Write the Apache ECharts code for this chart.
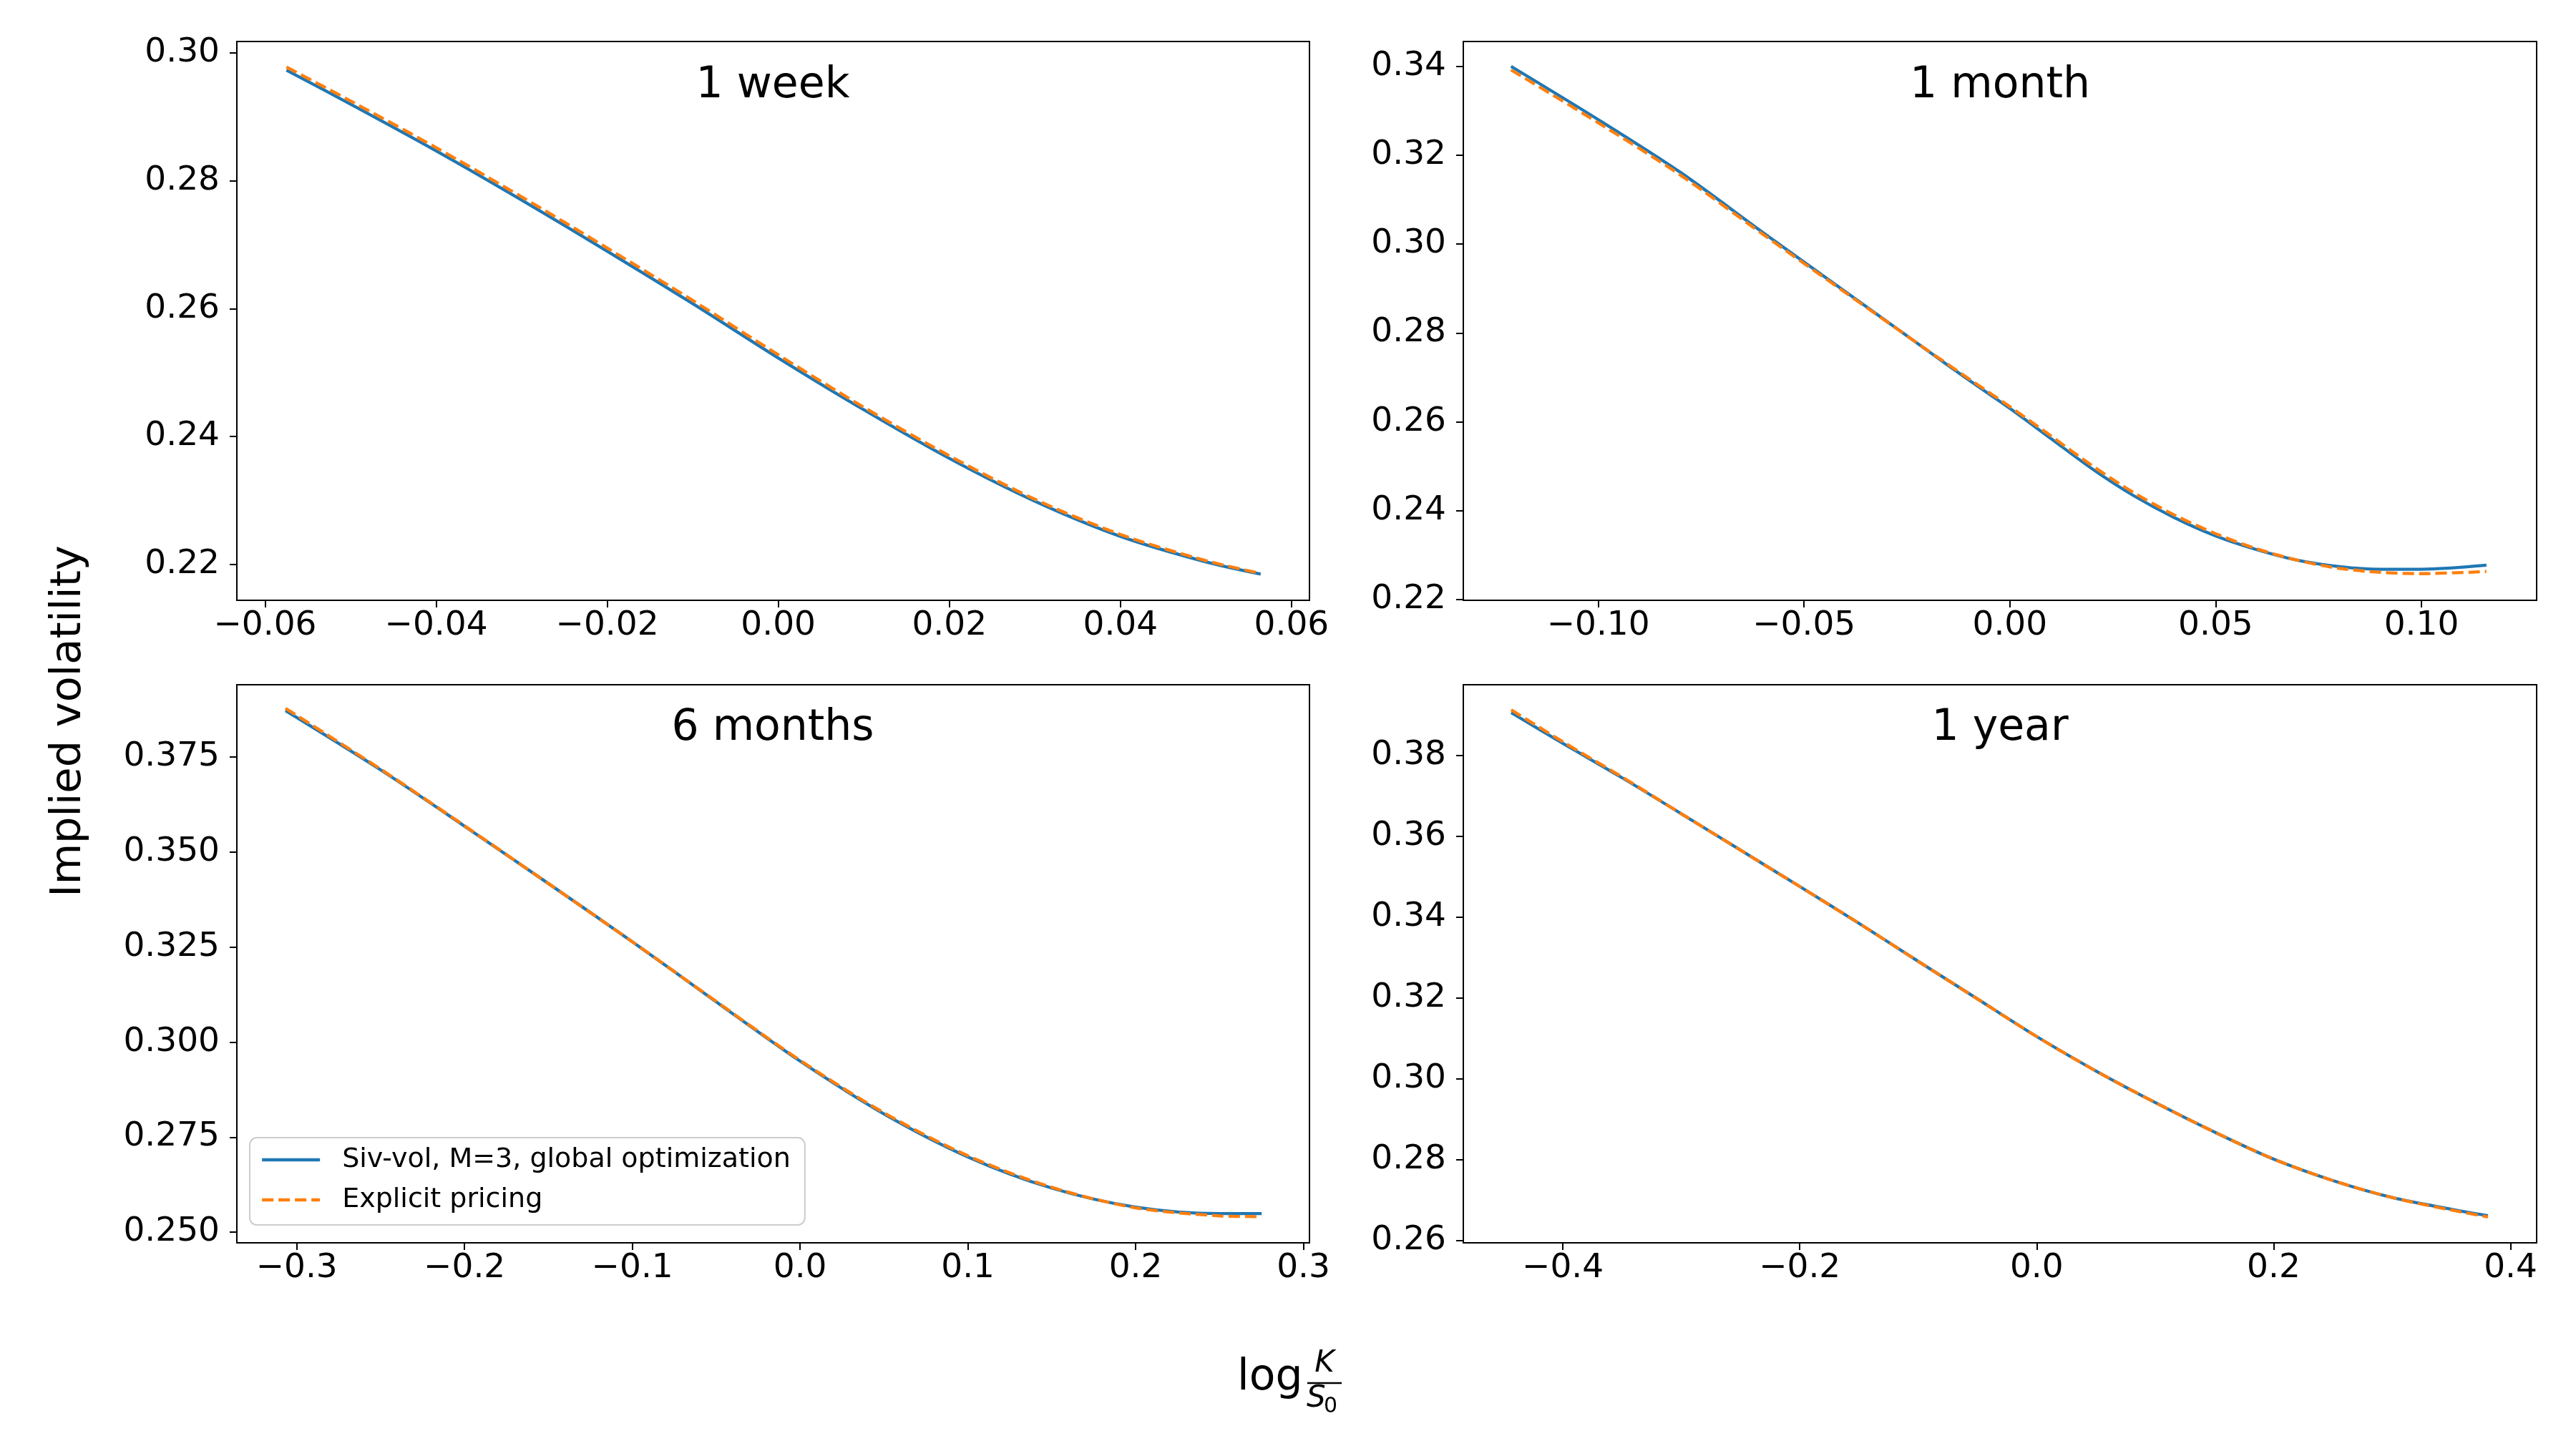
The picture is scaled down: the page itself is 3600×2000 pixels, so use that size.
<!DOCTYPE html>
<html>
<head>
<meta charset="utf-8">
<style>
  html, body { margin: 0; padding: 0; background: #fff; }
  #chart { width: 3600px; height: 2000px; }
</style>
</head>
<body>
<div id="chart"></div>
<script src="https://cdn.jsdelivr.net/npm/echarts/dist/echarts.min.js"></script>
<script>
// --- data ---
var panelTitles = ['1 week', '1 month', '6 months', '1 year'];
var seriesNames = ['Siv-vol, M=3, global optimization', 'Explicit pricing'];

// 1 week
var x1 = [-0.0575, -0.05, -0.04, -0.03, -0.02, -0.01, 0.0, 0.01, 0.02, 0.03, 0.04, 0.05, 0.0564];
var siv1 = [0.2973, 0.2920, 0.2847, 0.2770, 0.2690, 0.2608, 0.2523, 0.2442, 0.2366, 0.2299, 0.2244, 0.2204, 0.2185];
var exp1 = [0.2978, 0.2925, 0.2852, 0.2775, 0.2695, 0.2613, 0.2528, 0.2446, 0.2370, 0.2302, 0.2247, 0.2206, 0.2186];

// 1 month
var x2 = [-0.1212, -0.10, -0.08, -0.06, -0.04, -0.02, -0.01, 0.0, 0.01, 0.02, 0.03, 0.04, 0.05, 0.06, 0.07, 0.08, 0.09, 0.10, 0.1158];
var siv2 = [0.3400, 0.3280, 0.3161, 0.3026, 0.2893, 0.2760, 0.2694, 0.2630, 0.2562, 0.2494, 0.2434, 0.2384, 0.2343, 0.2312, 0.2288, 0.2274, 0.2268, 0.2268, 0.2277];
var exp2 = [0.3392, 0.3273, 0.3155, 0.3022, 0.2891, 0.2761, 0.2697, 0.2634, 0.2568, 0.2501, 0.2441, 0.2390, 0.2348, 0.2314, 0.2288, 0.2270, 0.2261, 0.2258, 0.2263];

// 6 months
var x3 = [-0.3067, -0.25, -0.2, -0.15, -0.1, -0.05, 0.0, 0.05, 0.1, 0.15, 0.2, 0.25, 0.2751];
var siv3 = [0.3872, 0.3716, 0.3568, 0.3417, 0.3264, 0.3106, 0.2950, 0.2811, 0.2698, 0.2616, 0.2566, 0.2549, 0.2549];
var exp3 = [0.3878, 0.3718, 0.3569, 0.3417, 0.3264, 0.3107, 0.2952, 0.2814, 0.2701, 0.2618, 0.2564, 0.2543, 0.2541];

// 1 year
var x4 = [-0.4436, -0.4, -0.35, -0.3, -0.25, -0.2, -0.15, -0.1, -0.05, 0.0, 0.05, 0.1, 0.15, 0.2, 0.25, 0.3, 0.35, 0.3809];
var siv4 = [0.3906, 0.3830, 0.3745, 0.3656, 0.3566, 0.3476, 0.3385, 0.3291, 0.3198, 0.3105, 0.3020, 0.2942, 0.2869, 0.2802, 0.2749, 0.2707, 0.2678, 0.2662];
var exp4 = [0.3913, 0.3834, 0.3747, 0.3656, 0.3566, 0.3476, 0.3385, 0.3291, 0.3198, 0.3105, 0.3020, 0.2942, 0.2869, 0.2802, 0.2749, 0.2707, 0.2676, 0.2659];

// tick values
var xTicks1 = [-0.06, -0.04, -0.02, 0.0, 0.02, 0.04, 0.06];
var yTicks1 = [0.22, 0.24, 0.26, 0.28, 0.30];
var xTicks2 = [-0.10, -0.05, 0.0, 0.05, 0.10];
var yTicks2 = [0.22, 0.24, 0.26, 0.28, 0.30, 0.32, 0.34];
var xTicks3 = [-0.3, -0.2, -0.1, 0.0, 0.1, 0.2, 0.3];
var yTicks3 = [0.250, 0.275, 0.300, 0.325, 0.350, 0.375];
var xTicks4 = [-0.4, -0.2, 0.0, 0.2, 0.4];
var yTicks4 = [0.26, 0.28, 0.30, 0.32, 0.34, 0.36, 0.38];

var FONT = 'DejaVu Sans';
var BLUE = '#1f77b4';
var ORANGE = '#ff7f0e';

function pairs(xs, ys) {
    return xs.map(function (x, i) { return [x, ys[i]]; });
}
function fmt(dec) {
    return function (v) { return Number(v).toFixed(dec).replace('-', '\u2212'); };
}

var grids = [
    { left: 331, top: 58, width: 1499, height: 781 },
    { left: 2045, top: 58, width: 1500, height: 781 },
    { left: 331, top: 957, width: 1499, height: 780 },
    { left: 2045, top: 957, width: 1500, height: 780 }
].map(function (g) {
    return Object.assign({ show: true, borderColor: '#000', borderWidth: 2, containLabel: false, outerBoundsMode: 'none' }, g);
});

function xAxis(i, min, max, ticks, dec) {
    return {
        gridIndex: i, type: 'value', min: min, max: max,
        axisLine: { show: true, onZero: false, lineStyle: { color: '#000', width: 2 } },
        axisTick: { show: true, length: 10, customValues: ticks, lineStyle: { color: '#000', width: 2 } },
        axisLabel: { customValues: ticks, formatter: fmt(dec), fontSize: 47, fontFamily: FONT, color: '#000', margin: 12 },
        splitLine: { show: false }
    };
}
function yAxis(i, min, max, ticks, dec) {
    return {
        gridIndex: i, type: 'value', min: min, max: max,
        axisLine: { show: true, onZero: false, lineStyle: { color: '#000', width: 2 } },
        axisTick: { show: true, length: 10, customValues: ticks, lineStyle: { color: '#000', width: 2 } },
        axisLabel: { customValues: ticks, formatter: fmt(dec), fontSize: 47, fontFamily: FONT, color: '#000', margin: 24 },
        splitLine: { show: false }
    };
}

function lines(i, xs, siv, exp) {
    return [
        {
            name: seriesNames[0], type: 'line', xAxisIndex: i, yAxisIndex: i,
            data: pairs(xs, siv), showSymbol: false, symbol: 'none', smooth: 0.3,
            lineStyle: { color: BLUE, width: 4.3 }, itemStyle: { color: BLUE }, z: 2
        },
        {
            name: seriesNames[1], type: 'line', xAxisIndex: i, yAxisIndex: i,
            data: pairs(xs, exp), showSymbol: false, symbol: 'none', smooth: 0.3,
            lineStyle: { color: ORANGE, width: 4.3, type: [16, 7] }, itemStyle: { color: ORANGE }, z: 3
        }
    ];
}

var titleCenters = [[1080, 120], [2795, 120], [1080, 1018], [2795, 1018]];
var graphics = titleCenters.map(function (c, i) {
    return {
        type: 'text', x: c[0], y: c[1], silent: true,
        style: { text: panelTitles[i], fontSize: 60, fontFamily: FONT, fill: '#000', textAlign: 'center', textVerticalAlign: 'middle' }
    };
});
// y label
graphics.push({
    type: 'text', x: 97, y: 1008, rotation: Math.PI / 2, silent: true,
    style: { text: 'Implied volatility', fontSize: 59, fontFamily: FONT, fill: '#000', textAlign: 'center', textVerticalAlign: 'middle' }
});
// x label: log K / S0
graphics.push(
    { type: 'text', x: 1729, y: 1926, silent: true,
      style: { text: 'log', fontSize: 60, fontFamily: FONT, fill: '#000', textAlign: 'left', textVerticalAlign: 'middle' } },
    { type: 'text', x: 1851, y: 1906, silent: true,
      style: { text: 'K', fontSize: 42, fontStyle: 'italic', fontFamily: FONT, fill: '#000', textAlign: 'center', textVerticalAlign: 'middle' } },
    { type: 'line', silent: true, shape: { x1: 1827, y1: 1933, x2: 1875, y2: 1933 }, style: { stroke: '#000', lineWidth: 2.5 } },
    { type: 'text', x: 1826, y: 1955, silent: true,
      style: { text: 'S', fontSize: 42, fontStyle: 'italic', fontFamily: FONT, fill: '#000', textAlign: 'left', textVerticalAlign: 'middle' } },
    { type: 'text', x: 1850, y: 1966, silent: true,
      style: { text: '0', fontSize: 30, fontFamily: FONT, fill: '#000', textAlign: 'left', textVerticalAlign: 'middle' } }
);

var myChart = echarts.init(document.getElementById('chart'), null, { renderer: 'canvas' });

var option = {
    backgroundColor: '#fff',
    animation: false,
    grid: grids,
    xAxis: [
        xAxis(0, -0.0633, 0.0621, xTicks1, 2),
        xAxis(1, -0.1328, 0.1280, xTicks2, 2),
        xAxis(2, -0.3357, 0.3036, xTicks3, 1),
        xAxis(3, -0.4840, 0.4220, xTicks4, 1)
    ],
    yAxis: [
        yAxis(0, 0.2144, 0.3018, yTicks1, 2),
        yAxis(1, 0.2198, 0.3456, yTicks2, 2),
        yAxis(2, 0.2472, 0.3940, yTicks3, 3),
        yAxis(3, 0.2595, 0.3975, yTicks4, 2)
    ],
    legend: {
        data: seriesNames,
        orient: 'vertical',
        left: 349, top: 1590,
        itemWidth: 81, itemHeight: 18, itemGap: 18,
        padding: [12, 20, 16, 15],
        backgroundColor: 'rgba(255,255,255,0.8)',
        borderColor: '#cccccc', borderWidth: 2, borderRadius: 10,
        itemStyle: { opacity: 0 },
        lineStyle: { width: 4.3 },
        textStyle: { fontSize: 38, fontFamily: FONT, color: '#000', padding: [0, 0, 0, 26] }
    },
    graphic: graphics,
    series: [].concat(
        lines(0, x1, siv1, exp1),
        lines(1, x2, siv2, exp2),
        lines(2, x3, siv3, exp3),
        lines(3, x4, siv4, exp4)
    )
};

myChart.setOption(option);
</script>
</body>
</html>
